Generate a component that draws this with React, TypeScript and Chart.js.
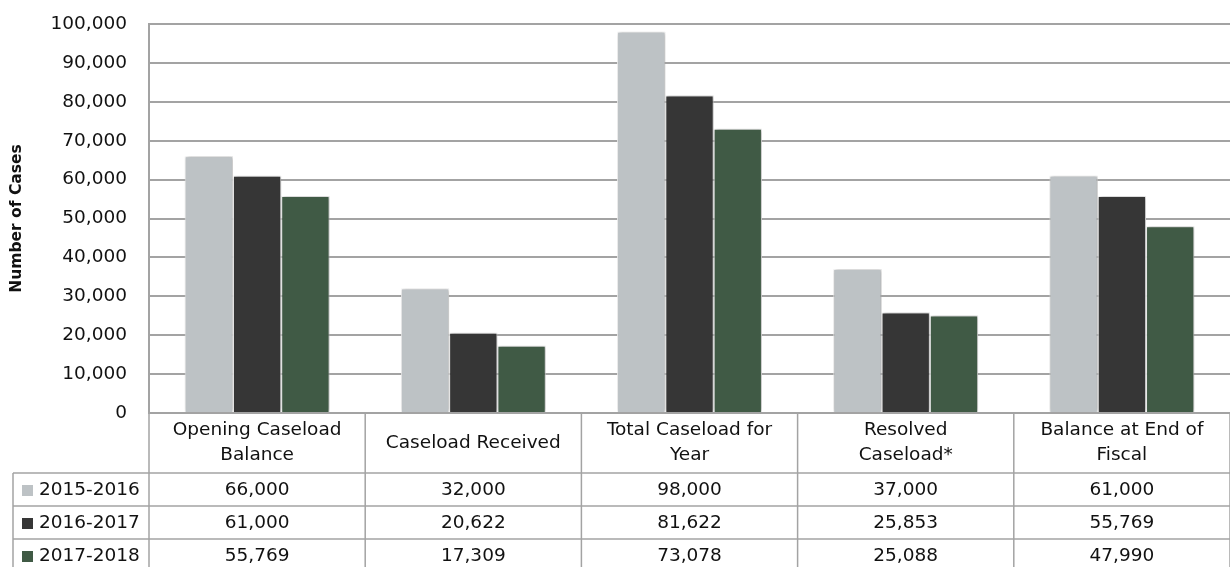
import React, { useEffect, useRef } from "react";
import { Chart, registerables } from "chart.js";

Chart.register(...registerables);

const categories: string[][] = [
  ["Opening Caseload", "Balance"],
  ["Caseload Received"],
  ["Total Caseload for", "Year"],
  ["Resolved", "Caseload*"],
  ["Balance at End of", "Fiscal"],
];
const seriesNames = ["2015-2016", "2016-2017", "2017-2018"];
const values2015 = [66000, 32000, 98000, 37000, 61000];
const values2016 = [61000, 20622, 81622, 25853, 55769];
const values2017 = [55769, 17309, 73078, 25088, 47990];
const seriesColors = ["#BDC2C5", "#363636", "#405A45"];
const yMax = 100000;
const yStep = 10000;

const FONT = "'DejaVu Sans', sans-serif";
const FONT_SIZE = 18.5;
const TEXT_COLOR = "#111111";
const LINE_COLOR = "#A3A3A3";

const fmt = (v: number) => v.toLocaleString("en-US");

export default function App() {
  const ref = useRef<HTMLCanvasElement | null>(null);

  useEffect(() => {
    if (!ref.current) return;
    const allSeries = [values2015, values2016, values2017];

    const shadowPlugin = {
      id: "barShadow",
      beforeDatasetsDraw(chart: any) {
        const ctx = chart.ctx;
        ctx.save();
        ctx.shadowColor = "rgba(0,0,0,0.35)";
        ctx.shadowBlur = 4;
        ctx.shadowOffsetX = 1;
        ctx.shadowOffsetY = 0;
      },
      afterDatasetsDraw(chart: any) {
        chart.ctx.restore();
      },
    };

    const tablePlugin = {
      id: "dataTable",
      afterDraw(chart: any) {
        const ctx = chart.ctx;
        const area = chart.chartArea;
        const xs = chart.scales.x;
        const ys = chart.scales.y;
        const top = ys.getPixelForValue(0);
        const headerH = 60;
        const rowH = 33;
        const bottom = chart.height + 10;
        const legendLeft = 13;
        const n = categories.length;
        const catW = (area.right - area.left) / n;

        ctx.save();
        ctx.strokeStyle = LINE_COLOR;
        ctx.lineWidth = 1.5;
        for (let i = 0; i <= n; i++) {
          const x = area.left + i * catW;
          ctx.beginPath();
          ctx.moveTo(x, top);
          ctx.lineTo(x, bottom);
          ctx.stroke();
        }
        ctx.beginPath();
        ctx.moveTo(legendLeft, top + headerH);
        ctx.lineTo(legendLeft, bottom);
        ctx.stroke();
        for (let r = 0; r < seriesNames.length; r++) {
          const y = top + headerH + r * rowH;
          ctx.beginPath();
          ctx.moveTo(legendLeft, y);
          ctx.lineTo(area.right, y);
          ctx.stroke();
        }

        ctx.fillStyle = TEXT_COLOR;
        ctx.font = `${FONT_SIZE}px ${FONT}`;
        ctx.textAlign = "center";
        ctx.textBaseline = "middle";
        categories.forEach((lines, i) => {
          const cx = xs.getPixelForValue(i);
          const lh = 25;
          const cy = top + headerH / 2;
          const start = cy - ((lines.length - 1) * lh) / 2;
          lines.forEach((ln, k) => ctx.fillText(ln, cx, start + k * lh));
        });
        allSeries.forEach((vals, r) => {
          const cy = top + headerH + r * rowH + rowH / 2 + 1;
          vals.forEach((v, i) => {
            ctx.textAlign = "center";
            ctx.fillText(fmt(v), xs.getPixelForValue(i), cy);
          });
          ctx.fillStyle = seriesColors[r];
          ctx.fillRect(22, cy - 5.5, 11, 11);
          ctx.fillStyle = TEXT_COLOR;
          ctx.textAlign = "left";
          ctx.fillText(seriesNames[r], 39, cy);
        });
        ctx.restore();
      },
    };

    const chart = new Chart(ref.current, {
      type: "bar",
      data: {
        labels: categories,
        datasets: allSeries.map((vals, i) => ({
          label: seriesNames[i],
          data: vals,
          backgroundColor: seriesColors[i],
          borderColor: "#FFFFFF",
          borderWidth: 1,
          categoryPercentage: 0.67,
          barPercentage: 1.0,
        })),
      },
      options: {
        animation: false,
        responsive: true,
        maintainAspectRatio: false,
        layout: { padding: { top: 24, bottom: 154, left: 0, right: 0 } },
        plugins: {
          legend: { display: false },
          tooltip: { enabled: false },
          title: { display: false },
        },
        scales: {
          x: { display: false },
          y: {
            min: 0,
            max: yMax,
            afterFit: (scale: any) => {
              scale.width = 149;
              scale.paddingTop = 0;
              scale.paddingBottom = 0;
            },
            ticks: {
              stepSize: yStep,
              padding: 22,
              color: TEXT_COLOR,
              font: { family: FONT, size: FONT_SIZE },
              callback: (v: any) => fmt(Number(v)),
            },
            grid: {
              color: LINE_COLOR,
              lineWidth: 2,
              drawTicks: false,
            },
            border: { display: true, color: LINE_COLOR, width: 2 },
            title: {
              display: true,
              text: "Number of Cases",
              color: TEXT_COLOR,
              font: { family: FONT, size: 15.5, weight: "bold" },
              padding: { top: 8, bottom: 0 },
            },
          },
        },
      },
      plugins: [shadowPlugin, tablePlugin],
    });
    return () => chart.destroy();
  }, []);

  return (
    <div style={{ position: "fixed", left: 0, top: 0, width: 1230, height: 567, background: "#fff" }}>
      <canvas ref={ref} />
    </div>
  );
}
